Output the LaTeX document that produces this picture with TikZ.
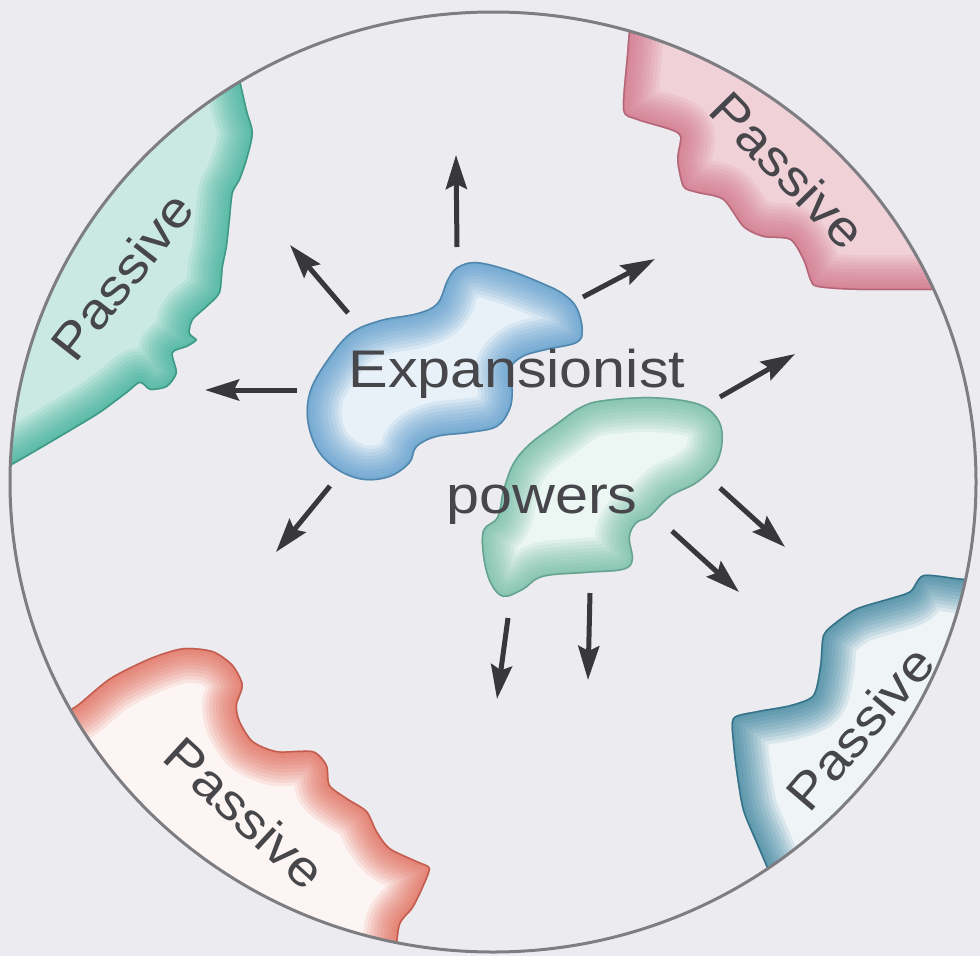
\documentclass[tikz,border=0pt]{standalone}
\usepackage{fontspec}
\setmainfont{Liberation Sans}
\newfontfamily\widefont[FakeStretch=1.12]{Liberation Sans}
\usetikzlibrary{arrows.meta}
\definecolor{bg}{RGB}{236,236,240}
\definecolor{rim}{RGB}{125,125,130}
\definecolor{tealA}{RGB}{45,168,142}
\definecolor{pinkA}{RGB}{205,100,125}
\definecolor{redA}{RGB}{220,80,60}
\definecolor{blueA}{RGB}{25,110,140}
\definecolor{blobA}{RGB}{65,140,195}
\definecolor{blobB}{RGB}{95,178,152}
\definecolor{ink}{RGB}{70,70,75}
\definecolor{arrowc}{RGB}{55,55,60}
\newcommand\glowedge[2]{%
  \foreach \w in {70,63,...,4} {\draw[#1, line width=\w pt, opacity=.1, line join=round] #2;}
  \draw[#1!75!black, line width=3pt, opacity=.55, line join=round] #2;
}
\def\tledge{plot[smooth,tension=.45] coordinates {(238,70) (247,110) (253,133) (247,160) (240,180) (233,193) (230,220) (227,247) (223,267) (220,293) (207,307) (193,320) (190,333) (197,340) (187,347) (173,353) (177,373) (167,387) (150,390) (140,383) (127,393) (100,413) (67,433) (33,453) (0,472)}}
\def\tredge{plot[smooth,tension=.45] coordinates {(630,15) (627,53) (623,110) (637,120) (670,130) (680,137) (677,160) (683,187) (697,193) (723,200) (743,227) (763,237) (790,240) (803,260) (810,280) (817,287) (857,290) (960,290)}}
\def\bledge{plot[smooth,tension=.45] coordinates {(60,714) (77,705) (110,678) (150,658) (183,648) (213,651) (233,665) (243,685) (237,705) (240,721) (253,741) (277,751) (313,751) (327,765) (330,785) (347,798) (367,811) (377,831) (390,848) (417,861) (430,868) (423,888) (413,908) (400,925) (396,960)}}
\def\bredge{plot[smooth,tension=.45] coordinates {(990,582) (957,578) (923,575) (910,591) (890,598) (857,608) (837,621) (823,635) (820,665) (813,695) (790,705) (757,711) (733,718) (733,745) (737,778) (743,811) (757,845) (772,880)}}
\def\blobApath{plot[smooth cycle,tension=.6] coordinates {(457,267) (477,262) (510,270) (543,283) (563,293) (577,307) (583,330) (577,343) (547,350) (523,357) (510,370) (513,390) (510,410) (497,427) (470,433) (437,437) (417,447) (410,463) (390,477) (363,480) (337,470) (317,450) (307,420) (310,390) (327,360) (350,333) (380,320) (417,313) (437,303) (447,280)}}
\def\blobBpath{plot[smooth cycle,tension=.6] coordinates {(603,400) (653,397) (697,403) (717,417) (723,437) (717,463) (697,483) (670,497) (650,517) (637,523) (630,537) (633,560) (623,570) (587,573) (543,577) (523,590) (503,597) (490,583) (483,557) (483,530) (497,517) (503,490) (513,463) (530,443) (557,423) (580,407)}}
\begin{document}
\begin{tikzpicture}[x=1pt,y=-1pt,
  lab/.style={text=ink, font=\widefont\fontsize{50}{54}\selectfont, inner sep=0pt},
  mid/.style={text=ink, font=\widefont\fontsize{53}{56}\selectfont, inner sep=0pt},
  arr/.style={arrowc, line width=5pt, -{Stealth[length=34pt,width=21pt,inset=5pt]}}]
\useasboundingbox (0,0) rectangle (980,956);
\fill[bg] (0,0) rectangle (980,956);
% passive regions, clipped to the circle
\begin{scope}
  \clip (493,482) ellipse[x radius=483, y radius=470];
  \fill[tealA!25!white] \tledge -- (-40,480) -- (-40,-40) -- (238,-40) -- cycle;
  \begin{scope}
    \clip \tledge -- (-40,480) -- (-40,-40) -- (238,-40) -- cycle;
    \glowedge{tealA}{\tledge}
  \end{scope}
  \fill[pinkA!30!white] \tredge -- (1020,290) -- (1020,-40) -- (630,-40) -- cycle;
  \begin{scope}
    \clip \tredge -- (1020,290) -- (1020,-40) -- (630,-40) -- cycle;
    \glowedge{pinkA}{\tredge}
  \end{scope}
  \fill[redA!6!white] \bledge -- (396,1000) -- (-40,1000) -- (-40,714) -- cycle;
  \begin{scope}
    \clip \bledge -- (396,1000) -- (-40,1000) -- (-40,714) -- cycle;
    \glowedge{redA}{\bledge}
  \end{scope}
  \fill[blueA!7!white] \bredge -- (772,1000) -- (1020,1000) -- (1020,582) -- cycle;
  \begin{scope}
    \clip \bredge -- (772,1000) -- (1020,1000) -- (1020,582) -- cycle;
    \glowedge{blueA}{\bredge}
  \end{scope}
\end{scope}
\draw[rim, line width=3pt] (493,482) ellipse[x radius=483, y radius=470];
% central blobs
\fill[blobA!12!white] \blobApath;
\begin{scope}
  \clip \blobApath;
  \glowedge{blobA}{\blobApath}
\end{scope}
\fill[blobB!12!white] \blobBpath;
\begin{scope}
  \clip \blobBpath;
  \glowedge{blobB}{\blobBpath}
\end{scope}
% arrows
\coordinate (t1) at (457,247); \coordinate (h1) at (456,155);
\coordinate (t2) at (348,313); \coordinate (h2) at (290,245);
\coordinate (t3) at (297,390); \coordinate (h3) at (205,390);
\coordinate (t4) at (583,297); \coordinate (h4) at (655,259);
\coordinate (t5) at (720,397); \coordinate (h5) at (795,354);
\coordinate (t6) at (330,486); \coordinate (h6) at (276,552);
\coordinate (t7) at (720,488); \coordinate (h7) at (785,547);
\coordinate (t8) at (672,531); \coordinate (h8) at (739,592);
\coordinate (t9) at (590,593); \coordinate (h9) at (588,680);
\coordinate (t10) at (508,618); \coordinate (h10) at (497,699);
\foreach \i in {1,...,10} \draw[arr] (t\i) -- (h\i);
% labels
\node[lab, rotate=52] (p1) at (122,276) {Passive};
\node[lab, rotate=-45.5] (p2) at (788,170) {Passive};
\node[lab, rotate=-42.5] (p3) at (245,813) {Passive};
\node[lab, rotate=49.5] (p4) at (860,728) {Passive};
\node[mid, anchor=base] (ex) at (517,387) {Expansionist};
\node[mid, anchor=base] (pw) at (542,513) {powers};
\end{tikzpicture}
\end{document}
